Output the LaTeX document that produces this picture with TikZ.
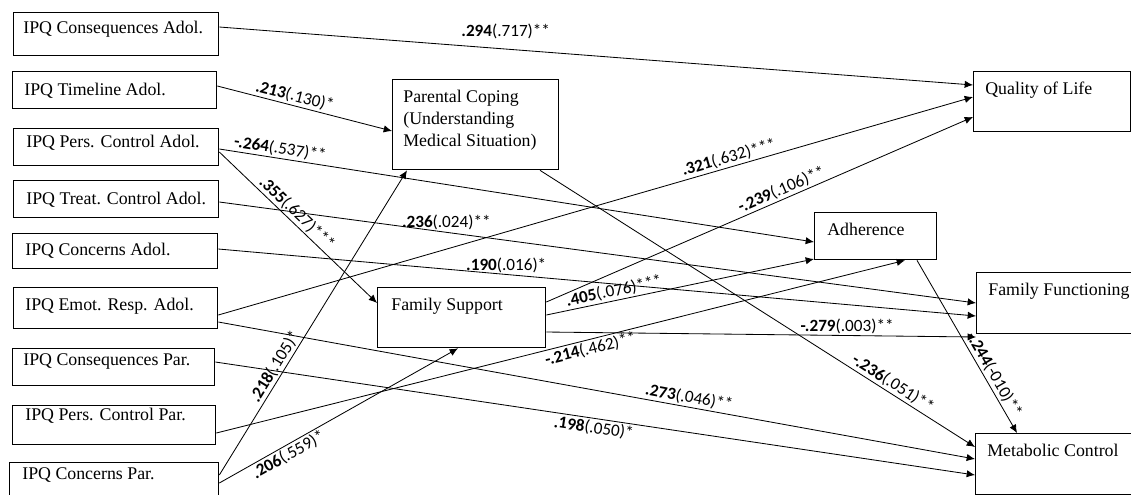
\documentclass[tikz,border=0pt]{standalone}
\usepackage{fontspec}
\setmainfont{Liberation Serif}
\newfontfamily\lblfamily{Carlito}
\usetikzlibrary{arrows.meta}

\tikzset{
  box/.style={draw, line width=0.8pt, anchor=north west, inner sep=0pt},
  boxtext/.style 2 args={anchor=north west, inner sep=0pt, xshift=#1, yshift=#2,
    align=left, font=\fontsize{10.7}{13}\selectfont},
  link/.style={line width=0.5pt, -{Latex[length=5pt,width=4.4pt]}},
  lbl/.style={font=\lblfamily\fontsize{10.3}{12}\selectfont, inner sep=1pt}
}
\newcommand{\coef}[3]{\textbf{#1}(#2)#3}

\begin{document}
\begin{tikzpicture}[x=0.6pt,y=-0.6pt]
\useasboundingbox (0,0) rectangle (1131,494);

% adolescent illness perceptions
\node[box, minimum width=123pt, minimum height=25.8pt, label={[boxtext={6pt}{-5.4pt}]north west:IPQ Consequences Adol.}] (cA) at (13,12) {};
\node[box, minimum width=122.4pt, minimum height=22.2pt, label={[boxtext={7.2pt}{-7.2pt}]north west:IPQ Timeline Adol.}] (tA) at (12,71) {};
\node[box, minimum width=123pt, minimum height=22.2pt, label={[boxtext={7.8pt}{-4.2pt}]north west:IPQ Pers. Control Adol.}] (pA) at (13,128) {};
\node[box, minimum width=123pt, minimum height=22.2pt, label={[boxtext={7.8pt}{-7.2pt}]north west:IPQ Treat. Control Adol.}] (trA) at (13,180) {};
\node[box, minimum width=123pt, minimum height=21pt, label={[boxtext={7.8pt}{-6pt}]north west:IPQ Concerns Adol.}] (coA) at (12,233) {};
\node[box, minimum width=122.4pt, minimum height=24.6pt, label={[boxtext={7.2pt}{-6.6pt}]north west:IPQ Emot. Resp. Adol.}] (eA) at (13,287) {};

% parent illness perceptions
\node[box, minimum width=121.2pt, minimum height=22.2pt, label={[boxtext={6.6pt}{-3pt}]north west:IPQ Consequences Par.}] (cP) at (12,348) {};
\node[box, minimum width=121.8pt, minimum height=23.4pt, label={[boxtext={7.8pt}{-1.8pt}]north west:IPQ Pers. Control Par.}] (pP) at (12,405) {};
\node[box, minimum width=125.4pt, minimum height=21.6pt, label={[boxtext={7.8pt}{-3pt}]north west:IPQ Concerns Par.}] (coP) at (9,462) {};

% mediators
\node[box, minimum width=99.6pt, minimum height=54pt, label={[boxtext={6.6pt}{-6.6pt}]north west:Parental Coping\\(Understanding\\Medical Situation)}] (PC) at (392,79) {};
\node[box, minimum width=100.8pt, minimum height=36pt, label={[boxtext={8.4pt}{-6.6pt}]north west:Family Support}] (FS) at (377,287) {};
\node[box, minimum width=73.2pt, minimum height=28.2pt, label={[boxtext={7.8pt}{-6.6pt}]north west:Adherence}] (Adh) at (814,212) {};

% outcomes
\node[box, minimum width=94.2pt, minimum height=36pt, label={[boxtext={7.2pt}{-6.6pt}]north west:Quality of Life}] (QoL) at (973,71) {};
\node[box, minimum width=93.6pt, minimum height=36.6pt, label={[boxtext={7.2pt}{-6.6pt}]north west:Family Functioning}] (FF) at (976,272) {};
\node[box, minimum width=94.2pt, minimum height=36.6pt, label={[boxtext={7.2pt}{-6.6pt}]north west:Metabolic Control}] (MC) at (975,433) {};

% paths
\draw[link] (cA.east |- 0,27) -- node[lbl, above=5pt, pos=0.38] {\coef{.294}{.717}{**}} (QoL.west |- 0,85);
\draw[link] (tA.east |- 0,86) -- node[lbl, above, sloped, pos=0.43] {\coef{.213}{.130}{*}} (PC.west |- 0,131);
\draw[link] (pA.east |- 0,149) -- node[lbl, above, sloped, pos=0.1] {\coef{-.264}{.537}{**}} (Adh.west |- 0,242);
\draw[link] (pA.east |- 0,152) -- node[lbl, above, sloped, pos=0.45] {\coef{.355}{.627}{***}} (FS.west |- 0,303);
\draw[link] (trA.east |- 0,202) -- node[lbl, above, pos=0.3] {\coef{.236}{.024}{**}} (FF.west |- 0,303);
\draw[link] (coA.east |- 0,249) -- node[lbl, above, pos=0.38] {\coef{.190}{.016}{*}} (FF.west |- 0,316);
\draw[link] (eA.east |- 0,315) -- node[lbl, above, sloped, pos=0.68] {\coef{.321}{.632}{***}} (QoL.west |- 0,97);
\draw[link] (eA.east |- 0,322) -- node[lbl, above, sloped, pos=0.62] {\coef{.273}{.046}{**}} (MC.west |- 0,459);
\draw[link] (cP.east |- 0,362) -- node[lbl, below, sloped, pos=0.5] {\coef{.198}{.050}{*}} (MC.west |- 0,475);
\draw[link] (pP.east |- 0,433) -- node[lbl, below, sloped, pos=0.54] {\coef{-.214}{.462}{**}} (Adh.south -| 905,0);
\draw[link] (coP.east |- 0,475) -- node[lbl, above, sloped, pos=0.34] {\coef{.218}{.105}{*}} (PC.south -| 407,0);
\draw[link] (coP.east |- 0,483) -- node[lbl, below, sloped, pos=0.27] {\coef{.206}{.559}{*}} (FS.south -| 458,0);
\draw[link] (PC.south -| 540,0) -- node[lbl, above, sloped, pos=0.8] {\coef{-.236}{.051}{**}} (MC.west |- 0,447);
\draw[link] (FS.east |- 0,302) -- node[lbl, above, sloped, pos=0.56] {\coef{-.239}{.106}{**}} (QoL.west |- 0,117);
\draw[link] (FS.east |- 0,315) -- node[lbl, above, sloped, pos=0.26] {\coef{.405}{.076}{***}} (Adh.west |- 0,259);
\draw[link] (FS.east |- 0,332) -- node[lbl, above, pos=0.7] {\coef{-.279}{.003}{**}} (FF.west |- 0,337);
\draw[link] (Adh.south -| 917,0) -- node[lbl, above, sloped, pos=0.69] {\coef{-.244}{-010}{**}} (MC.north -| 1017,0);
\end{tikzpicture}
\end{document}
